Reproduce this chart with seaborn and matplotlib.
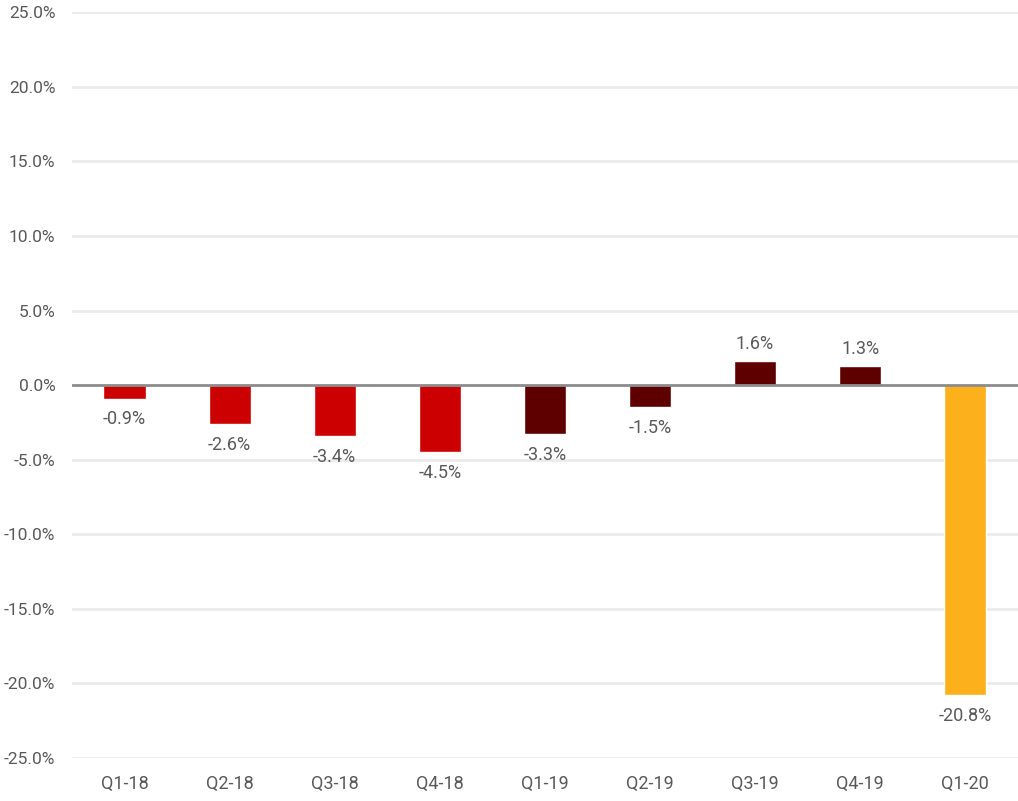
import matplotlib
matplotlib.use("Agg")
import matplotlib.pyplot as plt
import matplotlib.font_manager as fm
import seaborn as sns
import pandas as pd

quarters = ["Q1-18", "Q2-18", "Q3-18", "Q4-18", "Q1-19", "Q2-19", "Q3-19", "Q4-19", "Q1-20"]
changes = [-0.9, -2.6, -3.4, -4.5, -3.3, -1.5, 1.6, 1.3, -20.8]
bar_colors = ["#cc0000", "#cc0000", "#cc0000", "#cc0000",
              "#5e0000", "#5e0000", "#5e0000", "#5e0000", "#fbb01c"]
y_ticks = [-25, -20, -15, -10, -5, 0, 5, 10, 15, 20, 25]

sns.set_theme(style="white")
names = {f.name for f in fm.fontManager.ttflist}
family = "Liberation Sans Narrow" if "Liberation Sans Narrow" in names else "Roboto"
plt.rcParams["font.family"] = [family, "DejaVu Sans"]

df = pd.DataFrame({"quarter": quarters, "change": changes})

fig = plt.figure(figsize=(10.18, 8.01), dpi=100)
ax = fig.add_axes([0.0707, 0.0537, 0.929, 0.931])

sns.barplot(data=df, x="quarter", y="change", hue="quarter", palette=bar_colors,
            width=0.4, legend=False, ax=ax, saturation=1, zorder=3)

ax.set_ylim(-25, 25)
ax.set_xlim(-0.5, len(quarters) - 0.5)
ax.set_yticks(y_ticks)
ax.set_yticklabels([f"{v:.1f}%" for v in y_ticks])
for v in y_ticks:
    if v != 0:
        ax.axhline(v, color="#ebebeb", lw=2, zorder=1)
ax.axhline(0, color="#8c8c8c", lw=2, zorder=4)

for i, v in enumerate(changes):
    if v >= 0:
        ax.text(i, v + 0.55, f"{v:.1f}%", ha="center", va="bottom", fontsize=13, color="#595959")
    else:
        ax.text(i, v - 0.8, f"{v:.1f}%", ha="center", va="top", fontsize=13, color="#595959")

for s in ax.spines.values():
    s.set_visible(False)
ax.tick_params(axis="both", length=0, labelcolor="#595959")
ax.tick_params(axis="y", pad=12, labelsize=12.5)
ax.tick_params(axis="x", pad=12, labelsize=13)
ax.set_xlabel("")
ax.set_ylabel("")

fig.savefig("out.png", dpi=100)
